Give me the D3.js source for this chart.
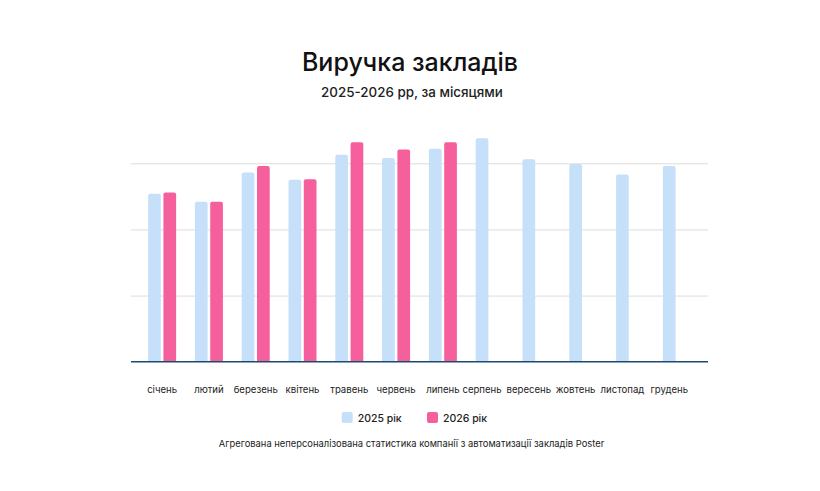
<!DOCTYPE html>
<html>
<head>
<meta charset="utf-8">
<script src="https://cdn.jsdelivr.net/npm/d3@7"></script>
<style>
  html, body { margin: 0; padding: 0; background: #fff; }
  svg { display: block; font-family: Inter, "Noto Sans", sans-serif; }
</style>
</head>
<body>
<div id="chart"></div>
<script>
// chart data
const months = ["січень", "лютий", "березень", "квітень", "травень", "червень",
                "липень", "серпень", "вересень", "жовтень", "листопад", "грудень"];
const series = ["2025 рік", "2026 рік"];
const values2025 = [2.54, 2.42, 2.86, 2.75, 3.13, 3.08, 3.22, 3.38, 3.06, 2.99, 2.83, 2.96];
const values2026 = [2.56, 2.42, 2.96, 2.76, 3.32, 3.21, 3.32, null, null, null, null, null];
const gridTicks = [0, 1, 2, 3];
const colors = ["#c6e0f9", "#f5609c"];

const width = 820, height = 491;
const plot = { left: 131, right: 708, top: 163.3, bottom: 361.7 };

const svg = d3.select("#chart")
    .append("svg")
    .attr("width", width)
    .attr("height", height);

// scales
const x = d3.scaleBand()
    .domain(months)
    .range([plot.left, plot.right])
    .paddingInner(0)
    .paddingOuter(0.165);

const y = d3.scaleLinear()
    .domain([0, 3])
    .range([plot.bottom, plot.top]);

const barW = 12.7, barGap = 2.6;
const groupW = barW * 2 + barGap;
const x1 = d3.scaleOrdinal()
    .domain(series)
    .range([0, barW + barGap]);

// title
svg.append("text")
    .attr("x", width / 2)
    .attr("y", 70.5)
    .attr("text-anchor", "middle")
    .attr("font-size", 25)
    .attr("font-weight", 500)
    .attr("fill", "#111")
    .text("Виручка закладів");

svg.append("text")
    .attr("x", width / 2 + 2)
    .attr("y", 97)
    .attr("text-anchor", "middle")
    .attr("font-size", 13.4)
    .attr("font-weight", 500)
    .attr("fill", "#222")
    .text("2025-2026 рр, за місяцями");

// gridlines
const grid = d3.axisLeft(y)
    .tickValues(gridTicks.slice(1))
    .tickSize(-(plot.right - plot.left))
    .tickFormat("");

svg.append("g")
    .attr("transform", `translate(${plot.left},0)`)
    .call(grid)
    .call(g => g.select(".domain").remove())
    .call(g => g.selectAll(".tick line").attr("stroke", "#dcdcdc").attr("stroke-width", 1));

// bars
const rows = months.map((m, i) => ({
    month: m,
    bars: [
        { key: series[0], value: values2025[i] },
        { key: series[1], value: values2026[i] }
    ].filter(d => d.value != null)
}));

const barPath = (x0, y0, w, h, r) =>
    `M${x0},${y0 + h}V${y0 + r}Q${x0},${y0} ${x0 + r},${y0}H${x0 + w - r}Q${x0 + w},${y0} ${x0 + w},${y0 + r}V${y0 + h}Z`;

const groups = svg.append("g")
    .selectAll("g")
    .data(rows)
    .join("g")
    .attr("transform", d => `translate(${x(d.month) + (x.bandwidth() - groupW) / 2},0)`);

groups.selectAll("path")
    .data(d => d.bars)
    .join("path")
    .attr("d", d => barPath(x1(d.key), y(d.value), barW, y(0) - y(d.value), 2))
    .attr("fill", d => colors[series.indexOf(d.key)]);

// baseline
svg.append("line")
    .attr("x1", plot.left)
    .attr("x2", plot.right)
    .attr("y1", y(0))
    .attr("y2", y(0))
    .attr("stroke", "#1d4a72")
    .attr("stroke-width", 1.6);

// month labels, centred under drawn bars
svg.append("g")
    .selectAll("text")
    .data(rows)
    .join("text")
    .attr("x", d => {
        const start = x(d.month) + (x.bandwidth() - groupW) / 2;
        const w = d.bars.length * barW + (d.bars.length - 1) * barGap;
        return start + w / 2;
    })
    .attr("y", 393)
    .attr("text-anchor", "middle")
    .attr("font-size", 9.6)
    .attr("fill", "#222")
    .text(d => d.month);

// legend
const legend = svg.append("g")
    .selectAll("g")
    .data(series)
    .join("g")
    .attr("transform", (d, i) => `translate(${341.7 + i * 85.3},412)`);

legend.append("rect")
    .attr("width", 11)
    .attr("height", 11)
    .attr("rx", 2)
    .attr("fill", (d, i) => colors[i]);

legend.append("text")
    .attr("x", 16)
    .attr("y", 9.5)
    .attr("font-size", 10.5)
    .attr("font-weight", 500)
    .attr("fill", "#222")
    .text(d => d);

// footnote
svg.append("text")
    .attr("x", 411.5)
    .attr("y", 447)
    .attr("text-anchor", "middle")
    .attr("font-size", 9.4)
    .attr("fill", "#222")
    .text("Агрегована неперсоналізована статистика компанії з автоматизації закладів Poster");
</script>
</body>
</html>
